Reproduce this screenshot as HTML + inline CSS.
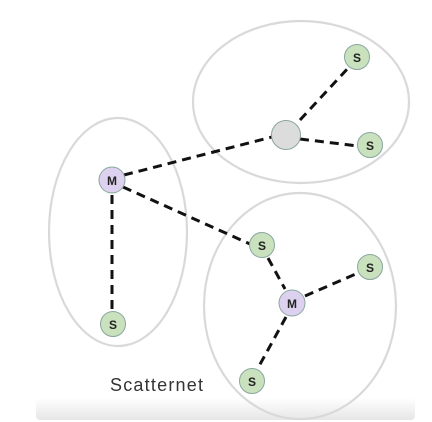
<!DOCTYPE html>
<html><head><style>
html,body{margin:0;padding:0;background:#fff;}
svg{display:block;}
</style></head><body>
<svg width="432" height="422" viewBox="0 0 432 422" xmlns="http://www.w3.org/2000/svg">
<defs>
<linearGradient id="g" x1="0" y1="0" x2="0" y2="1">
<stop offset="0" stop-color="#ffffff"/>
<stop offset="1" stop-color="#e6e6e6"/>
</linearGradient>
</defs>
<rect x="36" y="398" width="379" height="22" rx="4" fill="url(#g)"/>
<g fill="none" stroke="#d9d9d9" stroke-width="2.2">
<ellipse cx="301" cy="102" rx="108" ry="81"/>
<ellipse cx="118" cy="232" rx="69" ry="114"/>
<ellipse cx="300" cy="306" rx="96" ry="113"/>
</g>
<g stroke="#111" stroke-width="3" stroke-dasharray="9,6" fill="none">
<line x1="124" y1="175" x2="272" y2="137"/>
<line x1="300" y1="120" x2="350" y2="66"/>
<line x1="300" y1="139" x2="358" y2="146"/>
<line x1="123" y1="187" x2="250" y2="244"/>
<line x1="112" y1="195" x2="112" y2="311"/>
<line x1="268" y1="258" x2="285" y2="289"/>
<line x1="305" y1="296" x2="358" y2="273"/>
<line x1="286" y1="317" x2="258" y2="368"/>
</g>
<g stroke="#8aa6a0" stroke-width="1">
<circle cx="357" cy="57" r="12.5" fill="#c9e2bd"/>
<circle cx="370" cy="145" r="12.5" fill="#c9e2bd"/>
<circle cx="286" cy="135" r="14.5" fill="#dcdcdc"/>
<circle cx="112" cy="180" r="13" fill="#dcd2ef"/>
<circle cx="262" cy="245" r="12.5" fill="#c9e2bd"/>
<circle cx="370" cy="267" r="12.5" fill="#c9e2bd"/>
<circle cx="292" cy="303" r="13" fill="#dcd2ef"/>
<circle cx="113" cy="324" r="12.5" fill="#c9e2bd"/>
<circle cx="252" cy="381" r="12.5" fill="#c9e2bd"/>
</g>
<g font-family="Liberation Sans, sans-serif" font-weight="bold" font-size="12" fill="#222" text-anchor="middle">
<text x="357" y="62">S</text>
<text x="370" y="150">S</text>
<text x="112" y="185">M</text>
<text x="262" y="250">S</text>
<text x="370" y="272">S</text>
<text x="292" y="308">M</text>
<text x="113" y="329">S</text>
<text x="252" y="386">S</text>
</g>
<text x="110" y="391" font-family="Liberation Sans, sans-serif" font-size="18" fill="#333" textLength="93" lengthAdjust="spacing">Scatternet</text>
</svg>
</body></html>
